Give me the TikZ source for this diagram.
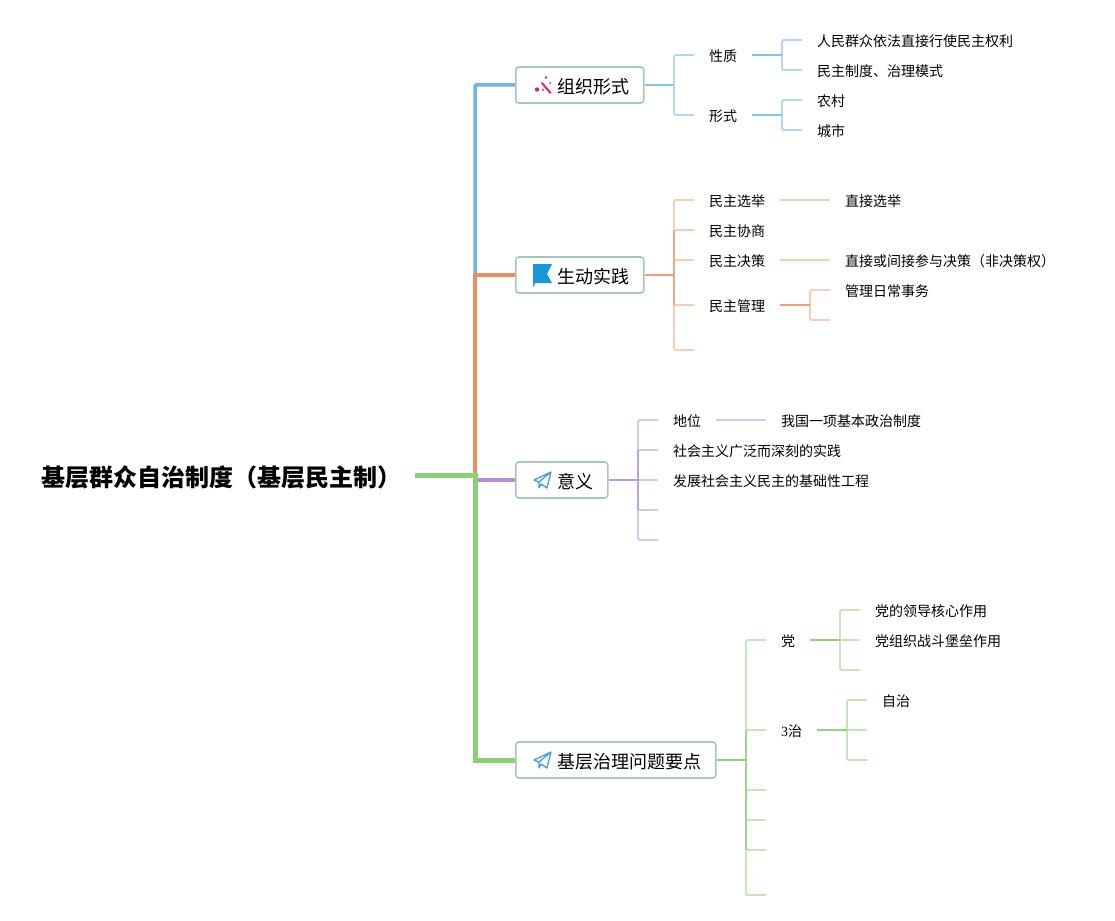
\documentclass[tikz,border=0pt]{standalone}
\usepackage{fontspec}
\setmainfont{Noto Sans CJK SC}
\newfontfamily\digitfont{Liberation Serif}
\definecolor{blueL}{HTML}{B0D8EF}\definecolor{blueD}{HTML}{86C3E8}\definecolor{blueM}{HTML}{6DB5E3}
\definecolor{orangeL}{HTML}{F5CDB8}\definecolor{orangeD}{HTML}{EE9D78}\definecolor{orangeM}{HTML}{EF8C5F}
\definecolor{purpleL}{HTML}{D4C6EC}\definecolor{purpleD}{HTML}{B79BDB}\definecolor{purpleM}{HTML}{B08ED8}
\definecolor{greenL}{HTML}{C4E6B9}\definecolor{greenD}{HTML}{92D082}\definecolor{greenM}{HTML}{86D274}
\definecolor{boxline}{HTML}{A5C6BD}\definecolor{wand}{HTML}{E0245E}\definecolor{iconblue}{HTML}{1A96D8}\definecolor{planeblue}{HTML}{3FA0DC}
\tikzset{
  topic/.style={draw=boxline,line width=1.6pt,rounded corners=3pt,fill=white,minimum height=36pt,inner sep=0pt,anchor=west,font=\fontsize{18}{18}\selectfont},
  title/.style={anchor=west,inner sep=0pt,font=\fontsize{18}{18}\selectfont},
  leaf/.style={anchor=west,inner sep=0pt,font=\fontsize{14}{14}\selectfont},
  lite/.style={line width=1.8pt,rounded corners=1.5pt},
  stem/.style={line width=2pt},
  spine/.style={line width=1.8pt},
  planeicon/.pic={
    \draw[planeblue,line width=1.3pt,line join=round] (9,-8) -- (-8,0) -- (-3,2) -- (9,-8) -- (5,8) -- (-1,4) -- (-3,8) -- (-3,2);
  },
}
\begin{document}
\begin{tikzpicture}[x=1pt,y=-1pt]
\useasboundingbox (0,0) rectangle (1115,920);
\fill[white] (0,0) rectangle (1115,920);
% hub
\coordinate (hub) at (475,475);
\coordinate (rootend) at (415,475);
% topics
\node[topic,minimum width=128pt] (A) at (515,85) {};
\node[topic,minimum width=128pt] (B) at (515,275) {};
\node[topic,minimum width=92pt] (C) at (515,480) {};
\node[topic,minimum width=200pt] (D) at (515,760) {};
\node[anchor=west,inner sep=0pt,font=\fontsize{24}{24}\selectfont\bfseries] (root) at (41,477) {基层群众自治制度（基层民主制）};
\node[title] (At) at (557,87) {组织形式};
\node[title] (Bt) at (557,277) {生动实践};
\node[title] (Ct) at (557,482) {意义};
\node[title] (Dt) at (557,762) {基层治理问题要点};
% icons
\draw[wand,line width=2pt,line cap=round] (542,83) -- (550.5,93);
\fill[wand] (546,77.5) circle (1.4pt) (537,89.5) circle (2.2pt) (543,90) circle (1.2pt) (550,83) circle (1pt);
\fill[iconblue] (533,264) -- (552,264) -- (547,274) -- (552,283) -- (534.5,283) -- (534.5,286) -- (533,286) -- cycle;
\pic at (542,480) {planeicon};
\pic at (542,760) {planeicon};
% main branches
\draw[blueM,line width=3.5pt,rounded corners=1pt] (A.west) -| (hub |- B.west);
\draw[orangeM,line width=4.5pt] (B.west) -| (hub);
\draw[purpleM,line width=3.5pt] (C.west) -- (hub |- C.west);
\draw[greenM,line width=5pt] (rootend) -- (hub) |- (D.west);
% level 2 text
\node[leaf] (a1) at (709,56) {性质};
\node[leaf] (a2) at (709,116) {形式};
\node[leaf] (a11) at (817,41) {人民群众依法直接行使民主权利};
\node[leaf] (a12) at (817,71) {民主制度、治理模式};
\node[leaf] (a21) at (817,101) {农村};
\node[leaf] (a22) at (817,131) {城市};
\node[leaf] (b1) at (709,201) {民主选举};
\node[leaf] (b2) at (709,231) {民主协商};
\node[leaf] (b3) at (709,261) {民主决策};
\node[leaf] (b4) at (709,306) {民主管理};
\node[leaf] (b11) at (845,201) {直接选举};
\node[leaf] (b31) at (845,261) {直接或间接参与决策（非决策权）};
\node[leaf] (b41) at (845,291) {管理日常事务};
\node[leaf] (c1) at (673,421) {地位};
\node[leaf] (c2) at (673,451) {社会主义广泛而深刻的实践};
\node[leaf] (c3) at (673,481) {发展社会主义民主的基础性工程};
\node[leaf] (c11) at (781,421) {我国一项基本政治制度};
\node[leaf] (d1) at (781,641) {党};
\node[leaf] (d2) at (781,731) {{\digitfont 3}治};
\node[leaf] (d11) at (875,611) {党的领导核心作用};
\node[leaf] (d12) at (875,641) {党组织战斗堡垒作用};
\node[leaf] (d21) at (882,701) {自治};
% --- branch A
\coordinate (Aj) at (674,85);
\coordinate (As1) at (694,55); \coordinate (As2) at (694,115);
\draw[blueL,lite] (As1) -| (Aj) |- (As2);
\draw[blueD,stem] (A.east) -- (Aj);
\coordinate (a1o) at (752,55); \coordinate (a1j) at (782,55);
\coordinate (a1s1) at (802,40); \coordinate (a1s2) at (802,70);
\draw[blueL,lite] (a1s1) -| (a1j) |- (a1s2);
\draw[blueD,stem] (a1o) -- (a1j);
\coordinate (a2o) at (752,115); \coordinate (a2j) at (782,115);
\coordinate (a2s1) at (802,100); \coordinate (a2s2) at (802,130);
\draw[blueL,lite] (a2s1) -| (a2j) |- (a2s2);
\draw[blueD,stem] (a2o) -- (a2j);
% --- branch B
\coordinate (Bj) at (674,275);
\coordinate (Bs1) at (694,200); \coordinate (Bs2) at (694,230); \coordinate (Bs3) at (694,260); \coordinate (Bs4) at (694,305); \coordinate (Bs5) at (694,350);
\draw[orangeL,lite] (Bs1) -| (Bj) |- (Bs5);
\draw[orangeL,lite] (Bs2) -- (Bs2 -| Bj);
\draw[orangeL,lite] (Bs3) -- (Bs3 -| Bj);
\draw[orangeL,lite] (Bs4) -- (Bs4 -| Bj);
\draw[orangeD!80!orangeL,spine] (Bj |- Bs2) -- (Bj |- Bs4);
\draw[orangeD,stem] (B.east) -- (Bj);
\coordinate (b1o) at (780,200); \coordinate (b1e) at (830,200);
\draw[orangeL,lite] (b1o) -- (b1e);
\coordinate (b3o) at (780,260); \coordinate (b3e) at (830,260);
\draw[orangeL,lite] (b3o) -- (b3e);
\coordinate (b4o) at (780,305); \coordinate (b4j) at (810,305);
\coordinate (b4s1) at (830,290); \coordinate (b4s2) at (830,320);
\draw[orangeL,lite] (b4s1) -| (b4j) |- (b4s2);
\draw[orangeD,stem] (b4o) -- (b4j);
% --- branch C
\coordinate (Cj) at (638,480);
\coordinate (Cs1) at (658,420); \coordinate (Cs2) at (658,450); \coordinate (Cs3) at (658,480); \coordinate (Cs4) at (658,510); \coordinate (Cs5) at (658,540);
\draw[purpleL,lite] (Cs1) -| (Cj) |- (Cs5);
\draw[purpleL,lite] (Cs2) -- (Cs2 -| Cj);
\draw[purpleL,lite] (Cs3) -- (Cj);
\draw[purpleL,lite] (Cs4) -- (Cs4 -| Cj);
\draw[purpleD!80!purpleL,spine] (Cj |- Cs2) -- (Cj |- Cs4);
\draw[purpleD,stem] (C.east) -- (Cj);
\coordinate (c1o) at (716,420); \coordinate (c1e) at (766,420);
\draw[purpleL,lite] (c1o) -- (c1e);
% --- branch D
\coordinate (Dj) at (746,760);
\coordinate (Ds1) at (766,640); \coordinate (Ds2) at (766,730); \coordinate (Ds3) at (766,790); \coordinate (Ds4) at (766,820); \coordinate (Ds5) at (766,850); \coordinate (Ds6) at (766,895);
\draw[greenL,lite] (Ds1) -| (Dj) |- (Ds6);
\draw[greenL,lite] (Ds2) -- (Ds2 -| Dj);
\draw[greenL,lite] (Ds3) -- (Ds3 -| Dj);
\draw[greenL,lite] (Ds4) -- (Ds4 -| Dj);
\draw[greenL,lite] (Ds5) -- (Ds5 -| Dj);
\draw[greenD!80!greenL,spine] (Dj |- Ds2) -- (Dj |- Ds5);
\draw[greenD,stem] (D.east) -- (Dj);
\coordinate (d1o) at (810,640); \coordinate (d1j) at (840,640);
\coordinate (d1s1) at (860,610); \coordinate (d1s2) at (860,640); \coordinate (d1s3) at (860,670);
\draw[greenL,lite] (d1s1) -| (d1j) |- (d1s3);
\draw[greenL,lite] (d1s2) -- (d1j);
\draw[greenD,stem] (d1o) -- (d1j);
\coordinate (d2o) at (817,730); \coordinate (d2j) at (847,730);
\coordinate (d2s1) at (867,700); \coordinate (d2s2) at (867,730); \coordinate (d2s3) at (867,760);
\draw[greenL,lite] (d2s1) -| (d2j) |- (d2s3);
\draw[greenL,lite] (d2s2) -- (d2j);
\draw[greenD,stem] (d2o) -- (d2j);
\end{tikzpicture}
\end{document}
